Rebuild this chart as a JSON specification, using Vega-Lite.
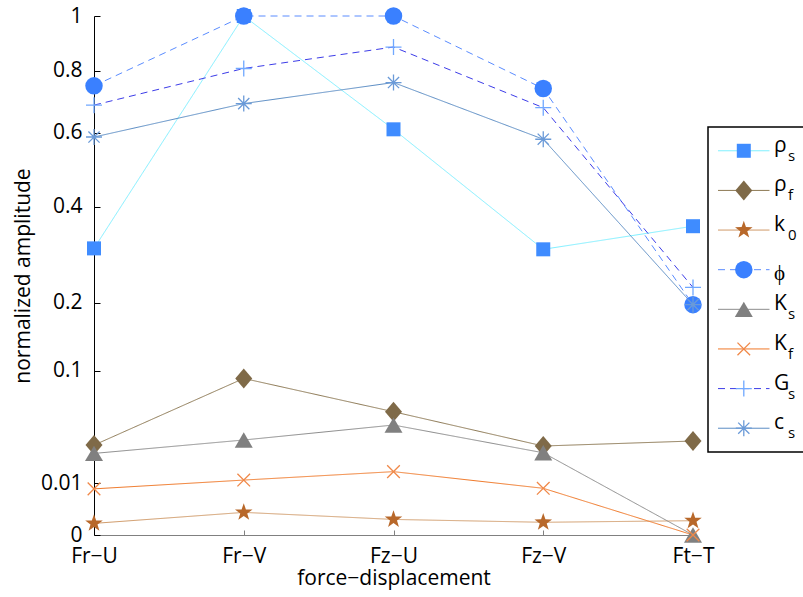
{
  "$schema": "https://vega.github.io/schema/vega-lite/v6.json",
  "background": "white",
  "padding": {"left": 12, "top": 5, "right": 0, "bottom": 12},
  "config": {"view": {"stroke": null}, "font": "Open Sans"},
  "bounds": "flush",
  "spacing": 15,
  "hconcat": [
    {
      "width": 599,
      "height": 519,
      "data": {"values": [
        {"series": "ρs", "x": "Fr−U", "v": 0.305}, {"series": "ρs", "x": "Fr−V", "v": 1.0}, {"series": "ρs", "x": "Fz−U", "v": 0.611}, {"series": "ρs", "x": "Fz−V", "v": 0.303}, {"series": "ρs", "x": "Ft−T", "v": 0.354},
        {"series": "ρf", "x": "Fr−U", "v": 0.030}, {"series": "ρf", "x": "Fr−V", "v": 0.091}, {"series": "ρf", "x": "Fz−U", "v": 0.0564}, {"series": "ρf", "x": "Fz−V", "v": 0.0294}, {"series": "ρf", "x": "Ft−T", "v": 0.0328},
        {"series": "k0", "x": "Fr−U", "v": 0.0005}, {"series": "k0", "x": "Fr−V", "v": 0.0019}, {"series": "k0", "x": "Fz−U", "v": 0.0009}, {"series": "k0", "x": "Fz−V", "v": 0.0006}, {"series": "k0", "x": "Ft−T", "v": 0.00076},
        {"series": "φ", "x": "Fr−U", "v": 0.749}, {"series": "φ", "x": "Fr−V", "v": 1.0}, {"series": "φ", "x": "Fz−U", "v": 1.0}, {"series": "φ", "x": "Fz−V", "v": 0.740}, {"series": "φ", "x": "Ft−T", "v": 0.197},
        {"series": "Ks", "x": "Fr−U", "v": 0.0247}, {"series": "Ks", "x": "Fr−V", "v": 0.0335}, {"series": "Ks", "x": "Fz−U", "v": 0.0449}, {"series": "Ks", "x": "Fz−V", "v": 0.0251}, {"series": "Ks", "x": "Ft−T", "v": 0.0},
        {"series": "Kf", "x": "Fr−U", "v": 0.0079}, {"series": "Kf", "x": "Fr−V", "v": 0.0112}, {"series": "Kf", "x": "Fz−U", "v": 0.0149}, {"series": "Kf", "x": "Fz−V", "v": 0.0081}, {"series": "Kf", "x": "Ft−T", "v": 0.0},
        {"series": "Gs", "x": "Fr−U", "v": 0.686}, {"series": "Gs", "x": "Fr−V", "v": 0.808}, {"series": "Gs", "x": "Fz−U", "v": 0.884}, {"series": "Gs", "x": "Fz−V", "v": 0.678}, {"series": "Gs", "x": "Ft−T", "v": 0.2275},
        {"series": "cs", "x": "Fr−U", "v": 0.588}, {"series": "cs", "x": "Fr−V", "v": 0.691}, {"series": "cs", "x": "Fz−U", "v": 0.760}, {"series": "cs", "x": "Fz−V", "v": 0.5815}, {"series": "cs", "x": "Ft−T", "v": 0.197}
      ]},
      "encoding": {
        "x": {"field": "x", "type": "ordinal", "sort": ["Fr−U", "Fr−V", "Fz−U", "Fz−V", "Ft−T"],
              "scale": {"type": "point", "padding": 0},
              "axis": {"title": "force−displacement", "labelAngle": 0, "domainColor": "#808080", "domainWidth": 1.2, "tickColor": "#808080", "tickSize": -5, "labelPadding": 15, "labelFontSize": 21, "labelColor": "black", "titleFontSize": 21, "titleFontWeight": "normal", "titlePadding": 1, "titleColor": "black"}},
        "y": {"field": "v", "type": "quantitative",
              "scale": {"type": "sqrt", "domain": [0, 1], "nice": false, "zero": true},
              "axis": {"title": "normalized amplitude", "values": [0, 0.01, 0.1, 0.2, 0.4, 0.6, 0.8, 1], "format": ".2~f", "grid": false, "domainColor": "black", "tickColor": "black", "tickSize": -6, "labelPadding": 18, "labelFontSize": 21, "labelColor": "black", "titleFontSize": 21, "titleFontWeight": "normal", "titlePadding": 7, "titleColor": "black"}}
      },
      "layer": [
        {
          "mark": {"type": "line", "strokeWidth": 1},
          "encoding": {
            "stroke": {"field": "series", "type": "nominal", "legend": null,
                       "scale": {"domain": ["ρs", "ρf", "k0", "φ", "Ks", "Kf", "Gs", "cs"], "range": ["#7ff0ff", "#8c7853", "#d09a68", "#5a8cff", "#8c8c8c", "#f07828", "#3c3ce8", "#5a8cc4"]}},
            "strokeDash": {"field": "series", "type": "nominal", "legend": null,
                       "scale": {"domain": ["ρs", "ρf", "k0", "φ", "Ks", "Kf", "Gs", "cs"], "range": [[1, 0], [1, 0], [1, 0], [7, 5], [1, 0], [1, 0], [7, 5], [1, 0]]}}
          }
        },
        {
          "transform": [{"filter": {"field": "series", "oneOf": ["ρs", "ρf", "k0", "φ", "Ks"]}}],
          "mark": {"type": "point", "filled": true, "opacity": 1},
          "encoding": {
            "fill": {"field": "series", "type": "nominal", "legend": null,
                     "scale": {"domain": ["ρs", "ρf", "k0", "φ", "Ks", "Kf", "Gs", "cs"], "range": ["#3f8cff", "#7f6a48", "#b8682a", "#3a80ff", "#808080", "#f08848", "#70a8ff", "#6a9ad8"]}},
            "shape": {"field": "series", "type": "nominal", "legend": null,
                      "scale": {"domain": ["ρs", "ρf", "k0", "φ", "Ks", "Kf", "Gs", "cs"], "range": ["square", "M0,-1L0.85,0L0,1L-0.85,0Z", "M0,-1L0.235,-0.324L0.951,-0.309L0.38,0.124L0.588,0.809L0,0.4L-0.588,0.809L-0.38,0.124L-0.951,-0.309L-0.235,-0.324Z", "circle", "M0,-0.85L1,0.85L-1,0.85Z", "M-1,-1L1,1M-1,1L1,-1", "M-1,0L1,0M0,-1L0,1", "M-1,0L1,0M0,-1L0,1M-0.7,-0.7L0.7,0.7M-0.7,0.7L0.7,-0.7"]}},
            "size": {"field": "series", "type": "nominal", "legend": null,
                     "scale": {"type": "ordinal", "domain": ["ρs", "ρf", "k0", "φ", "Ks", "Kf", "Gs", "cs"], "range": [196, 400, 340, 306, 324, 160, 256, 256]}}
          }
        },
        {
          "transform": [{"filter": {"field": "series", "oneOf": ["Kf", "Gs", "cs"]}}],
          "mark": {"type": "point", "filled": false, "opacity": 1, "strokeWidth": 1.3},
          "encoding": {
            "color": {"field": "series", "type": "nominal", "legend": null,
                      "scale": {"domain": ["ρs", "ρf", "k0", "φ", "Ks", "Kf", "Gs", "cs"], "range": ["#3f8cff", "#7f6a48", "#b8682a", "#3a80ff", "#808080", "#f08848", "#70a8ff", "#6a9ad8"]}},
            "shape": {"field": "series", "type": "nominal", "legend": null,
                      "scale": {"domain": ["ρs", "ρf", "k0", "φ", "Ks", "Kf", "Gs", "cs"], "range": ["square", "M0,-1L0.85,0L0,1L-0.85,0Z", "M0,-1L0.235,-0.324L0.951,-0.309L0.38,0.124L0.588,0.809L0,0.4L-0.588,0.809L-0.38,0.124L-0.951,-0.309L-0.235,-0.324Z", "circle", "M0,-0.85L1,0.85L-1,0.85Z", "M-1,-1L1,1M-1,1L1,-1", "M-1,0L1,0M0,-1L0,1", "M-1,0L1,0M0,-1L0,1M-0.7,-0.7L0.7,0.7M-0.7,0.7L0.7,-0.7"]}},
            "size": {"field": "series", "type": "nominal", "legend": null,
                     "scale": {"type": "ordinal", "domain": ["ρs", "ρf", "k0", "φ", "Ks", "Kf", "Gs", "cs"], "range": [196, 400, 340, 306, 324, 160, 256, 256]}}
          }
        }
      ]
    },
    {
      "bounds": "flush",
      "spacing": 16,
      "vconcat": [
        {
          "width": 100,
          "height": 95,
          "data": {"values": [{"blank": 1}]},
          "mark": {"type": "point", "opacity": 0},
          "encoding": {}
        },
        {
          "width": 100,
          "height": 325,
          "view": {"stroke": "black", "strokeWidth": 1.5},
          "data": {"values": [
            {"series": "ρs", "main": "ρ", "sub": "s", "k": 0},
            {"series": "ρf", "main": "ρ", "sub": "f", "k": 1},
            {"series": "k0", "main": "k", "sub": "0", "k": 2},
            {"series": "φ", "main": "ϕ", "sub": "", "k": 3},
            {"series": "Ks", "main": "K", "sub": "s", "k": 4},
            {"series": "Kf", "main": "K", "sub": "f", "k": 5},
            {"series": "Gs", "main": "G", "sub": "s", "k": 6},
            {"series": "cs", "main": "c", "sub": "s", "k": 7}
          ]},
          "encoding": {
            "y": {"field": "k", "type": "ordinal", "scale": {"type": "point", "padding": 0.6}, "axis": null}
          },
          "layer": [
            {
              "mark": {"type": "rule", "strokeWidth": 1},
              "encoding": {
                "x": {"datum": 0.1, "type": "quantitative", "scale": {"domain": [0, 1]}, "axis": null},
                "x2": {"datum": 0.615},
                "stroke": {"field": "series", "type": "nominal", "legend": null,
                           "scale": {"domain": ["ρs", "ρf", "k0", "φ", "Ks", "Kf", "Gs", "cs"], "range": ["#7ff0ff", "#8c7853", "#d09a68", "#5a8cff", "#8c8c8c", "#f07828", "#3c3ce8", "#5a8cc4"]}},
                "strokeDash": {"field": "series", "type": "nominal", "legend": null,
                           "scale": {"domain": ["ρs", "ρf", "k0", "φ", "Ks", "Kf", "Gs", "cs"], "range": [[1, 0], [1, 0], [1, 0], [7, 5], [1, 0], [1, 0], [7, 5], [1, 0]]}}
              }
            },
            {
              "transform": [{"filter": {"field": "series", "oneOf": ["ρs", "ρf", "k0", "φ", "Ks"]}}],
              "mark": {"type": "point", "filled": true, "opacity": 1},
              "encoding": {
                "x": {"datum": 0.358, "type": "quantitative"},
                "fill": {"field": "series", "type": "nominal", "legend": null,
                         "scale": {"domain": ["ρs", "ρf", "k0", "φ", "Ks", "Kf", "Gs", "cs"], "range": ["#3f8cff", "#7f6a48", "#b8682a", "#3a80ff", "#808080", "#f08848", "#70a8ff", "#6a9ad8"]}},
                "shape": {"field": "series", "type": "nominal", "legend": null,
                          "scale": {"domain": ["ρs", "ρf", "k0", "φ", "Ks", "Kf", "Gs", "cs"], "range": ["square", "M0,-1L0.85,0L0,1L-0.85,0Z", "M0,-1L0.235,-0.324L0.951,-0.309L0.38,0.124L0.588,0.809L0,0.4L-0.588,0.809L-0.38,0.124L-0.951,-0.309L-0.235,-0.324Z", "circle", "M0,-0.85L1,0.85L-1,0.85Z", "M-1,-1L1,1M-1,1L1,-1", "M-1,0L1,0M0,-1L0,1", "M-1,0L1,0M0,-1L0,1M-0.7,-0.7L0.7,0.7M-0.7,0.7L0.7,-0.7"]}},
                "size": {"field": "series", "type": "nominal", "legend": null,
                         "scale": {"type": "ordinal", "domain": ["ρs", "ρf", "k0", "φ", "Ks", "Kf", "Gs", "cs"], "range": [196, 400, 340, 306, 324, 160, 256, 256]}}
              }
            },
            {
              "transform": [{"filter": {"field": "series", "oneOf": ["Kf", "Gs", "cs"]}}],
              "mark": {"type": "point", "filled": false, "opacity": 1, "strokeWidth": 1.3},
              "encoding": {
                "x": {"datum": 0.358, "type": "quantitative"},
                "color": {"field": "series", "type": "nominal", "legend": null,
                          "scale": {"domain": ["ρs", "ρf", "k0", "φ", "Ks", "Kf", "Gs", "cs"], "range": ["#3f8cff", "#7f6a48", "#b8682a", "#3a80ff", "#808080", "#f08848", "#70a8ff", "#6a9ad8"]}},
                "shape": {"field": "series", "type": "nominal", "legend": null,
                          "scale": {"domain": ["ρs", "ρf", "k0", "φ", "Ks", "Kf", "Gs", "cs"], "range": ["square", "M0,-1L0.85,0L0,1L-0.85,0Z", "M0,-1L0.235,-0.324L0.951,-0.309L0.38,0.124L0.588,0.809L0,0.4L-0.588,0.809L-0.38,0.124L-0.951,-0.309L-0.235,-0.324Z", "circle", "M0,-0.85L1,0.85L-1,0.85Z", "M-1,-1L1,1M-1,1L1,-1", "M-1,0L1,0M0,-1L0,1", "M-1,0L1,0M0,-1L0,1M-0.7,-0.7L0.7,0.7M-0.7,0.7L0.7,-0.7"]}},
                "size": {"field": "series", "type": "nominal", "legend": null,
                         "scale": {"type": "ordinal", "domain": ["ρs", "ρf", "k0", "φ", "Ks", "Kf", "Gs", "cs"], "range": [196, 400, 340, 306, 324, 160, 256, 256]}}
              }
            },
            {
              "transform": [{"filter": "datum.sub != ''"}],
              "mark": {"type": "text", "align": "left", "baseline": "alphabetic", "fontSize": 21, "dy": 1, "color": "black"},
              "encoding": {
                "x": {"datum": 0.66, "type": "quantitative"},
                "text": {"field": "main"}
              }
            },
            {
              "transform": [{"filter": "datum.sub == ''"}],
              "mark": {"type": "text", "align": "left", "baseline": "middle", "fontSize": 21, "dy": 4, "color": "black"},
              "encoding": {
                "x": {"datum": 0.66, "type": "quantitative"},
                "text": {"field": "main"}
              }
            },
            {
              "transform": [{"filter": "datum.sub != ''"}],
              "mark": {"type": "text", "align": "left", "baseline": "alphabetic", "fontSize": 15, "dx": 14, "dy": 10, "color": "black"},
              "encoding": {
                "x": {"datum": 0.66, "type": "quantitative"},
                "text": {"field": "sub"}
              }
            }
          ]
        }
      ]
    }
  ]
}
